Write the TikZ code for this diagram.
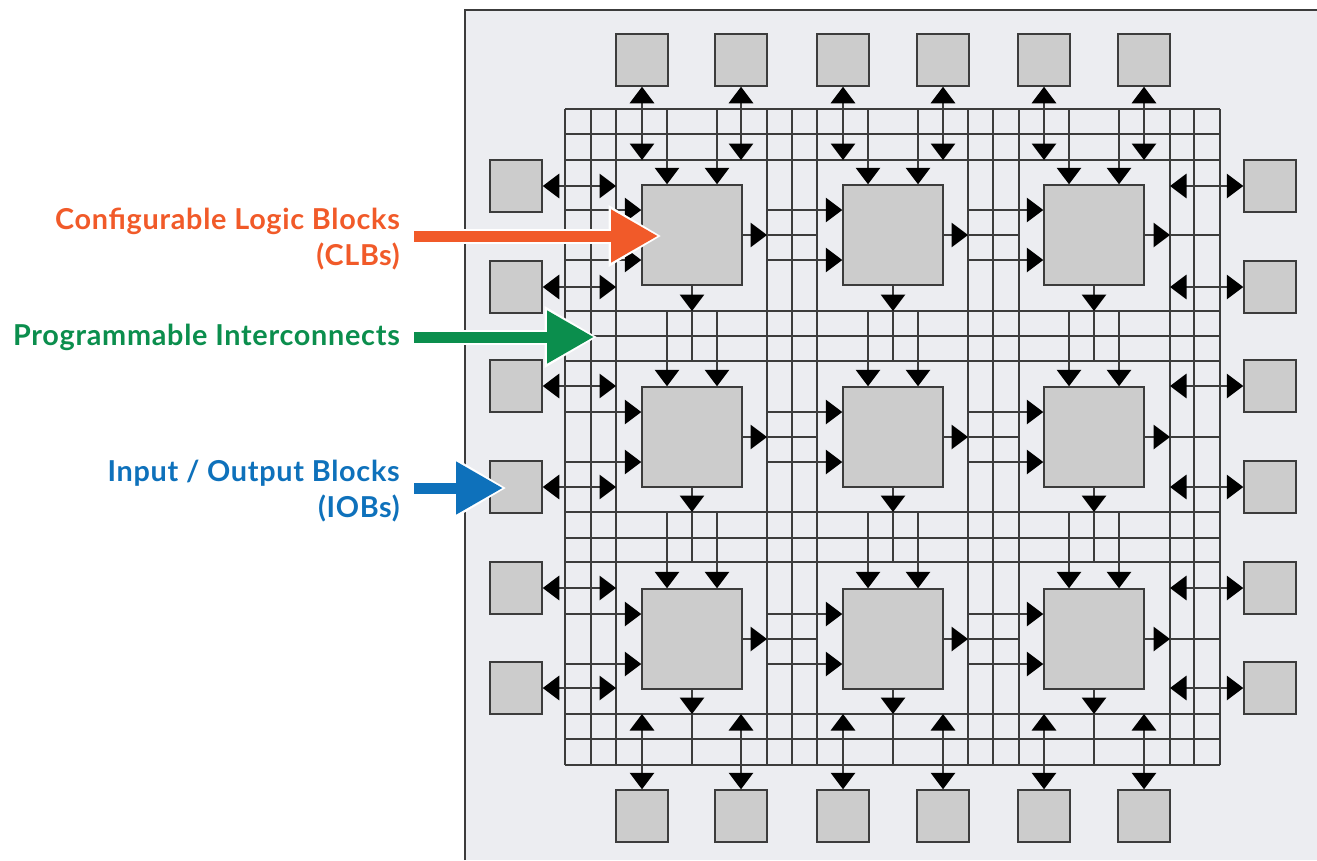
\documentclass[tikz,border=0pt]{standalone}
\usepackage{fontspec}
\setmainfont[LetterSpace=2.5]{Lato}
\usetikzlibrary{arrows.meta}
\definecolor{chipgray}{HTML}{ECEDF1}
\definecolor{blockgray}{HTML}{CCCCCC}
\definecolor{wiregray}{HTML}{3C3C3C}
\definecolor{clborange}{HTML}{F15A29}
\definecolor{pigreen}{HTML}{0B8E4D}
\definecolor{iobblue}{HTML}{0E71BB}
\tikzset{block/.style = {draw=wiregray, fill=blockgray, line width=1.5pt, inner sep=0pt},
         clb/.style = {block, minimum size=100pt},
         iob/.style = {block, minimum size=52pt},
         wire/.style = {draw=wiregray, line width=1.5pt},
         into/.style = {wire, -{Triangle[length=16.5pt, width=24.5pt, color=black]}},
         both/.style = {wire, {Triangle[length=16.5pt, width=24.5pt, color=black]}-{Triangle[length=16.5pt, width=24.5pt, color=black]}},
         label/.style = {anchor=east, align=right, inner sep=0pt, font=\fontsize{28.8}{36}\selectfont\bfseries},
         callout/.style = {line width=11pt, -{Triangle[length=47pt, width=50pt]},
                           preaction={draw=white, line width=15pt, shorten >=-3.5pt, -{Triangle[length=53pt, width=58pt, color=white]}}}}

\begin{document}
\begin{tikzpicture}[x=1pt, y=-1pt]
      \useasboundingbox (0, 0) rectangle (1317, 860);
      \fill [chipgray] (465, 10) rectangle (1317, 860);
      \draw [wiregray, line width=1.5pt] (465, 860) -- (465, 10) -- (1317, 10);

      \foreach \n/\x in {1/565, 2/591, 3/616, 4/767, 5/792, 6/817, 7/968, 8/993, 9/1019, 10/1170, 11/1194, 12/1220}
        \coordinate (v\n) at (\x, 0);
      \foreach \n/\y in {1/109, 2/134, 3/160, 4/311, 5/336, 6/361, 7/512, 8/538, 9/562, 10/714, 11/739, 12/765}
        \coordinate (h\n) at (0, \y);
      \foreach \n in {1, ..., 12} {
        \draw [wire] (v\n |- h1) -- (v\n |- h12);
        \draw [wire] (v1 |- h\n) -- (v12 |- h\n);
      }

      \foreach \r/\y/\top/\out/\end in {1/235/1/4/6, 2/437/4/7/9, 3/639/7/10/12}
        \foreach \c/\x/\lft/\rgt/\stop in {1/692/1/4/6, 2/893/4/7/9, 3/1094/7/10/12} {
          \node [clb] (clb\r\c) at (\x, \y) {};
          \draw [into] ([xshift=-25pt]clb\r\c.north |- h\top) -- ([xshift=-25pt]clb\r\c.north);
          \draw [into] ([xshift=25pt]clb\r\c.north |- h\top) -- ([xshift=25pt]clb\r\c.north);
          \draw [into] ([yshift=25pt]clb\r\c.west -| v\lft) -- ([yshift=25pt]clb\r\c.west);
          \draw [into] ([yshift=-25pt]clb\r\c.west -| v\lft) -- ([yshift=-25pt]clb\r\c.west);
          \draw [into] (clb\r\c.east) -- (clb\r\c.east -| v\rgt);
          \draw [wire] (clb\r\c.east -| v\rgt) -- (clb\r\c.east -| v\stop);
          \draw [into] (clb\r\c.south) -- (clb\r\c.south |- h\out);
          \draw [wire] (clb\r\c.south |- h\out) -- (clb\r\c.south |- h\end);
        }

      \foreach \n/\x in {1/642, 2/741, 3/843, 4/943, 5/1044, 6/1144} {
        \node [iob] (iobtop\n) at (\x, 60) {};
        \node [iob] (iobbot\n) at (\x, 816) {};
        \draw [both] (iobtop\n.south) -- (iobtop\n.south |- h3);
        \draw [both] (iobbot\n.north) -- (iobbot\n.north |- h10);
      }
      \foreach \n/\y in {1/186, 2/287, 3/386, 4/487, 5/588, 6/688} {
        \node [iob] (ioblft\n) at (516, \y) {};
        \node [iob] (iobrgt\n) at (1270, \y) {};
        \draw [both] (ioblft\n.east) -- (ioblft\n.east -| v3);
        \draw [both] (iobrgt\n.west) -- (iobrgt\n.west -| v10);
      }

      \node [label, text=clborange] (lblclb) at (400, 239.5) {Configurable Logic Blocks\\(CLBs)};
      \node [label, text=pigreen] (lblpi) at (400, 337) {Programmable Interconnects};
      \node [label, text=iobblue] (lbliob) at (400, 491) {Input / Output Blocks\\(IOBs)};

      \coordinate (tipclb) at (658, 236);
      \coordinate (tippi) at (594, 337);
      \coordinate (tipiob) at (503, 488);
      \draw [callout, clborange] ([xshift=14pt]tipclb -| lblclb.east) -- (tipclb);
      \draw [callout, pigreen] ([xshift=14pt]tippi -| lblpi.east) -- (tippi);
      \draw [callout, iobblue] ([xshift=14pt]tipiob -| lbliob.east) -- (tipiob);
    \end{tikzpicture}
\end{document}
